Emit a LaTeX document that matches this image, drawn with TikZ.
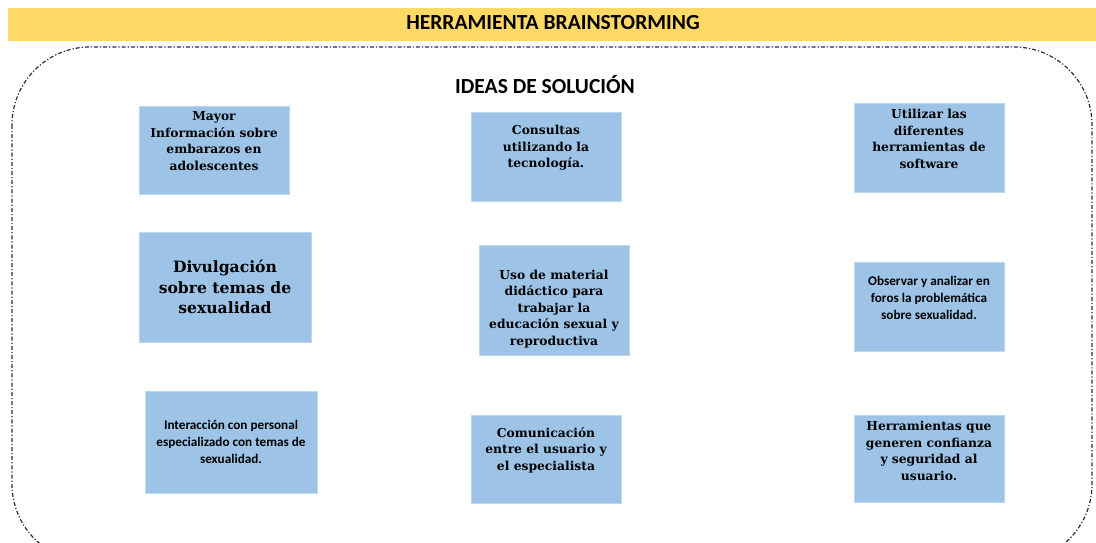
\documentclass[tikz,border=0pt]{standalone}
\usepackage{fontspec}
\newfontfamily\dvs{DejaVu Serif}
\newfontfamily\carl{Carlito}
\definecolor{titley}{HTML}{FFD966}
\definecolor{boxblue}{HTML}{9DC3E6}
\definecolor{boxedge}{HTML}{BDD7EE}
\definecolor{dashc}{HTML}{303030}
\begin{document}
\begin{tikzpicture}[x=1pt,y=-1pt,
  box/.style={draw=boxedge, line width=0.8pt, fill=boxblue, anchor=north west, inner sep=0pt},
  stxt/.style={align=center, inner sep=0pt, font=\dvs\bfseries\fontsize{12.3}{16.5}\selectfont},
  btxt/.style={align=center, inner sep=0pt, font=\dvs\bfseries\fontsize{15.6}{20.5}\selectfont},
  ctxt/.style={align=center, inner sep=0pt, font=\carl\bfseries\fontsize{13.2}{16.7}\selectfont},
  head/.style={inner sep=0pt, font=\carl\bfseries\fontsize{21.5}{24}\selectfont}]
\useasboundingbox (0,0) rectangle (1096,543);
\clip (0,0) rectangle (1096,543);
\fill[white] (0,0) rectangle (1096,543);
% title bar
\node[fill=titley, anchor=north west, minimum width=1088pt, minimum height=33pt, inner sep=0pt] (bar) at (8,8) {};
\node[head] (title) at (553,23) {HERRAMIENTA BRAINSTORMING};
% dashed frame
\draw[dashc, line width=1.2pt, dash pattern=on 4pt off 2pt on 1.2pt off 2pt, rounded corners=78pt] (12,47) rectangle (1092,562);
\node[head] (ideas) at (545,85) {IDEAS DE SOLUCIÓN};
% boxes
\node[box, minimum width=150pt, minimum height=88pt] (b1) at (139,106) {};
\node[box, minimum width=150pt, minimum height=89pt] (b2) at (471,112) {};
\node[box, minimum width=150pt, minimum height=89pt] (b3) at (854,103) {};
\node[box, minimum width=172pt, minimum height=110pt] (b4) at (139,232) {};
\node[box, minimum width=150pt, minimum height=110pt] (b5) at (479,245) {};
\node[box, minimum width=150pt, minimum height=89pt] (b6) at (854,262) {};
\node[box, minimum width=172pt, minimum height=102pt] (b7) at (145,391) {};
\node[box, minimum width=150pt, minimum height=88pt] (b8) at (471,415) {};
\node[box, minimum width=150pt, minimum height=87pt] (b9) at (854,415) {};
% texts
\node[stxt] (t1) at (214,141) {Mayor\\Información sobre\\embarazos en\\adolescentes};
\node[stxt] (t2) at (546,148) {Consultas\\utilizando la\\tecnología.};
\node[stxt] (t3) at (929,139) {Utilizar las\\diferentes\\herramientas de\\software};
\node[btxt] (t4) at (225,287) {Divulgación\\sobre temas de\\sexualidad};
\node[stxt] (t5) at (554,309) {Uso de material\\didáctico para\\trabajar la\\educación sexual y\\reproductiva};
\node[ctxt] (t6) at (929,298) {Observar y analizar en\\foros la problemática\\sobre sexualidad.};
\node[ctxt] (t7) at (231,442) {Interacción con personal\\especializado con temas de\\sexualidad.};
\node[stxt] (t8) at (546,450) {Comunicación\\entre el usuario y\\el especialista};
\node[stxt] (t9) at (929,451) {Herramientas que\\generen confianza\\y seguridad al\\usuario.};
\end{tikzpicture}
\end{document}
